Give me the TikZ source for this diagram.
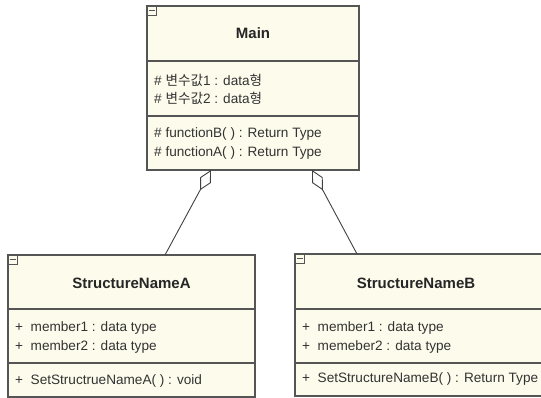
\documentclass[tikz,border=0pt]{standalone}
\usepackage{fontspec}
\setmainfont{Liberation Sans}
\newfontfamily\kr{Noto Sans CJK KR}
\usetikzlibrary{arrows.meta}
\definecolor{boxfill}{HTML}{FDFBEC}
\definecolor{boxline}{HTML}{555555}
\tikzset{
  classbox/.style={draw=boxline, fill=boxfill, line width=1.3pt},
  divider/.style={draw=boxline, line width=1.2pt},
  title/.style={font=\fontsize{15}{17}\selectfont\bfseries, text=black!85, inner sep=0},
  member/.style={font=\fontsize{13.6}{15}\selectfont, text=black!80, anchor=west, inner sep=0},
  minusicon/.style={draw=boxline, line width=0.9pt, fill=boxfill},
  aggr/.style={draw=black!75, line width=0.9pt, {Diamond[open, length=23pt, width=12pt, line width=0.9pt]}-},
}
\begin{document}
\begin{tikzpicture}[x=1pt,y=-1pt]
\useasboundingbox (0,0) rectangle (541,398);
% ---- Main ----
\draw[classbox] (147,6) rectangle (359,170);
\draw[divider] (147,61) -- (359,61);
\draw[divider] (147,116) -- (359,116);
\draw[minusicon] (147,6) rectangle (156,15);
\draw[boxline, line width=0.8pt] (148.5,10.5) -- (154.5,10.5);
\node[title] (mainT) at (253,33.5) {Main};
\node[member] (m1) at (154,80) {\# {\kr 변수값}1 : data{\kr 형}};
\node[member] (m2) at (154,98) {\# {\kr 변수값}2 : data{\kr 형}};
\node[member] (m3) at (154,134) {\# functionB( ) : Return Type};
\node[member] (m4) at (154,153) {\# functionA( ) : Return Type};
\coordinate (aggA) at (211,170);
\coordinate (aggB) at (312,170);
% ---- StructureNameA ----
\draw[classbox] (8,255) rectangle (255,397);
\draw[divider] (8,309) -- (255,309);
\draw[divider] (8,363) -- (255,363);
\draw[minusicon] (8,255) rectangle (17,264);
\draw[boxline, line width=0.8pt] (9.5,259.5) -- (15.5,259.5);
\node[title] (aT) at (131.5,283) {StructureNameA};
\node[member] (a1) at (15,328) {+ \ member1 : data type};
\node[member] (a2) at (15,347) {+ \ member2 : data type};
\node[member] (a3) at (15,381) {+ \ SetStructrueNameA( ) : void};
\coordinate (topA) at (165,255);
% ---- StructureNameB ----
\draw[classbox] (295,254) rectangle (545,396);
\draw[divider] (295,309) -- (545,309);
\draw[divider] (295,363) -- (545,363);
\draw[minusicon] (295,254) rectangle (304,263);
\draw[boxline, line width=0.8pt] (296.5,258.5) -- (302.5,258.5);
\node[title] (bT) at (416,283) {StructureNameB};
\node[member] (b1) at (302,328) {+ \ member1 : data type};
\node[member] (b2) at (302,347) {+ \ memeber2 : data type};
\node[member] (b3) at (302,379) {+ \ SetStructureNameB( ) : Return Type};
\coordinate (topB) at (357,254);
% ---- aggregations ----
\draw[aggr] (aggA) -- (topA);
\draw[aggr] (aggB) -- (topB);
\end{tikzpicture}
\end{document}
